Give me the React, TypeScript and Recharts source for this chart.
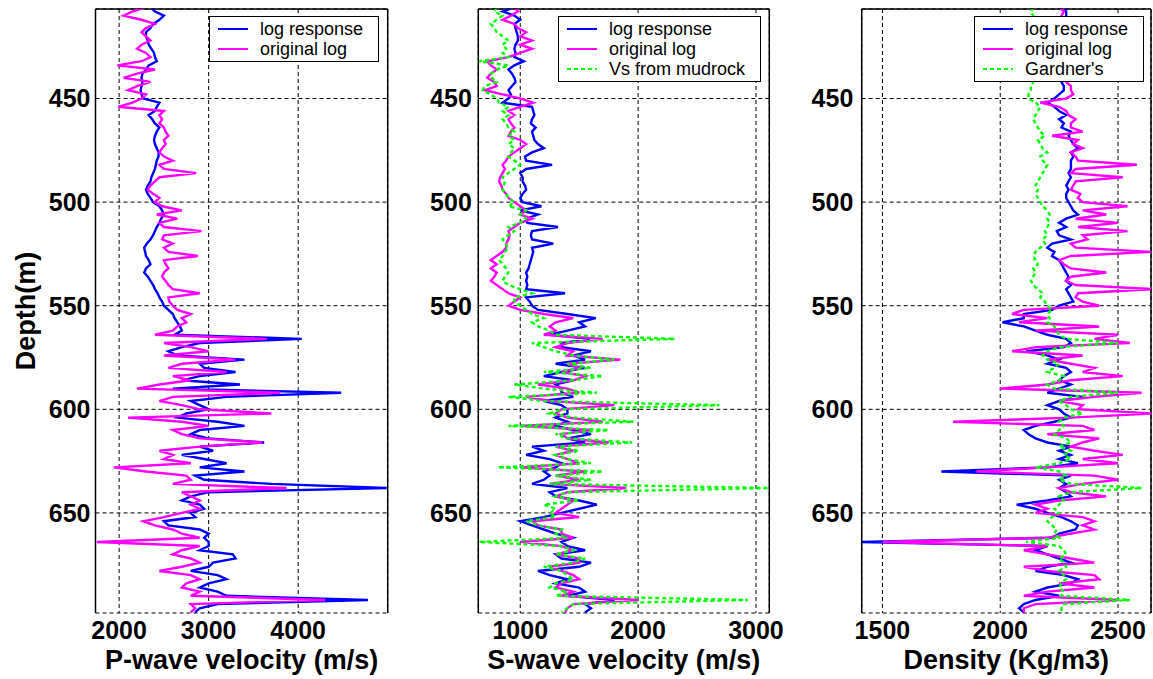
import React from "react";
import { LineChart, Line, XAxis, YAxis, CartesianGrid, ReferenceLine } from "recharts";

const FONT = '"Liberation Sans", Arial, Helvetica, sans-serif';
const BLUE = "#0000ff";
const MAGENTA = "#ff00ff";
const GREEN = "#00ff00";

// depth samples (m)
const depth = [
  406, 408, 410, 412, 414, 416, 418, 420, 422, 424,
  426, 428, 430, 432, 434, 436, 438, 440, 442, 444,
  446, 448, 450, 452, 454, 456, 458, 460, 462, 464,
  466, 468, 470, 472, 474, 476, 478, 480, 482, 484,
  486, 488, 490, 492, 494, 496, 498, 500, 502, 504,
  506, 508, 510, 512, 514, 516, 518, 520, 522, 524,
  526, 528, 530, 532, 534, 536, 538, 540, 542, 544,
  546, 548, 550, 552, 554, 556, 558, 560, 562, 564,
  566, 568, 570, 572, 574, 576, 578, 580, 582, 584,
  586, 588, 590, 592, 594, 596, 598, 600, 602, 604,
  606, 608, 610, 612, 614, 616, 618, 620, 622, 624,
  626, 628, 630, 632, 634, 636, 638, 640, 642, 644,
  646, 648, 650, 652, 654, 656, 658, 660, 662, 664,
  666, 668, 670, 672, 674, 676, 678, 680, 682, 684,
  686, 688, 690, 692, 694, 696, 698,
];

// P-wave velocity (m/s)
const vpLog = [
  2350, 2400, 2500, 2450, 2380, 2350, 2300, 2300, 2320, 2330,
  2360, 2390, 2400, 2420, 2330, 2300, 2260, 2250, 2260, 2250,
  2240, 2250, 2270, 2450, 2420, 2400, 2330, 2370, 2400, 2450,
  2420, 2400, 2390, 2400, 2420, 2440, 2440, 2420, 2410, 2400,
  2380, 2360, 2350, 2320, 2300, 2320, 2350, 2380, 2450, 2480,
  2500, 2470, 2450, 2420, 2400, 2380, 2350, 2310, 2280, 2290,
  2300, 2330, 2350, 2300, 2280, 2320, 2350, 2380, 2400, 2430,
  2450, 2480, 2500, 2550, 2600, 2620, 2650, 2680, 2700, 2620,
  4040, 2900, 2700, 2550, 2650, 3400, 2900, 2950, 3300, 2900,
  2700, 3350, 2600, 4480, 3200, 2800, 2900, 3000, 2750, 2650,
  3100, 3400, 2900, 2800, 3000, 3620, 2900, 3050, 2700, 2950,
  3200, 2900, 3400, 2850, 2950, 3700, 4990, 3000, 2800, 2700,
  2900, 2950, 2800, 2850, 2500, 2550, 2900, 3000, 2950, 3000,
  3000, 2900, 3270, 3300, 3050, 3000, 2800, 3100, 3200, 3000,
  2900, 3100, 3200, 4780, 3100, 2900, 2850,
];
const vpOrig = [
  2300, 2150, 2050, 2250, 2400, 2300, 2250, 2300, 2350, 2250,
  2200, 2300, 2350, 2250, 1980, 2400, 2200, 2050, 2350, 2200,
  2100, 2300, 2250, 2150, 1990, 2500, 2450, 2480, 2450, 2500,
  2520, 2550, 2500, 2520, 2480, 2450, 2500, 2600, 2450, 2500,
  2860, 2450, 2400, 2350, 2320, 2380, 2450, 2400, 2480, 2700,
  2420, 2650, 2450, 2500, 2920, 2500, 2480, 2600, 2500, 2550,
  2880, 2500, 2520, 2550, 2500, 2480, 2520, 2550, 2600, 2900,
  2550, 2560, 2600, 2650, 2800, 2700, 2750, 2650, 2600, 2400,
  3650, 2500, 2800, 3000, 2500, 3300, 2700, 2550, 3200, 2600,
  2800, 2450, 2200, 3800, 2600, 2450, 2700, 2900, 3700, 2100,
  2700, 3000, 2600, 2700, 2900, 3600, 2900, 2450, 2600, 2500,
  2800, 1940, 2300, 2750, 2800, 2600, 3870, 2700, 2800, 2900,
  2800, 2900, 2700, 2500, 2270, 2400, 2600, 2700, 2900, 1750,
  2900, 2700, 2600, 2800, 2900, 2700, 2450, 2800, 2900, 2750,
  2700, 2900, 2800, 4300, 2800, 2850, 2800,
];

// S-wave velocity (m/s)
const vsLog = [
  950, 850, 950, 1000, 950, 960, 970, 980, 980, 960,
  950, 960, 950, 1030, 950, 900, 930, 950, 960, 930,
  900, 920, 900, 850, 1100, 1110, 1120, 1100, 1090, 1130,
  1100, 1110, 1120, 1150, 1200, 1100, 1040, 1050, 1270, 1050,
  1000, 1020, 1020, 1040, 1050, 1020, 1000, 1020, 1180, 1000,
  1150, 1050, 1060, 1320, 1100, 1090, 1100, 1280, 1100, 1110,
  1100, 1090, 1080, 1070, 1050, 1060, 1050, 1060, 1050, 1380,
  1050, 1080, 1100, 1150, 1400, 1640, 1500, 1550, 1400, 1250,
  1590, 1350, 1350, 1600, 1450, 1550, 1300, 1550, 1350, 1200,
  1450, 1300, 1350, 1350, 1450, 1200, 1350, 1400, 1400, 1300,
  1400, 1300, 1450, 1600, 1400, 1550, 1100, 1200, 1050, 1250,
  1350, 1300, 1200, 1250, 1200, 1100, 1400, 1250, 1300, 1500,
  1650, 1500, 1350, 1200, 1000, 1100, 1200, 1300, 1450, 1350,
  1400, 1550, 1300, 1350, 1600, 1500, 1150, 1250, 1400, 1300,
  1500, 1550, 1400, 1800, 1550, 1600, 1550,
];
const vsOrig = [
  950, 980, 920, 850, 950, 980, 1050, 1000, 1100, 1000,
  1100, 1000, 900, 720, 750, 800, 750, 720, 780, 800,
  700, 850, 1000, 1110, 1000, 900, 950, 900, 920, 950,
  920, 900, 1000, 1050, 1000, 950, 900, 880, 850, 870,
  850, 830, 820, 840, 850, 880, 900, 950, 1000, 1050,
  1000, 1100, 1000, 950, 900, 910, 900, 880, 880, 850,
  800, 750, 800, 750, 800, 780, 750, 800, 850, 900,
  1000, 950, 900, 1000, 1200, 1450, 1300, 1250, 1300, 1200,
  1700, 1400, 1300, 1450, 1400, 1850, 1400, 1500, 1350, 1550,
  1450, 1150, 1400, 1500, 1050, 1250, 1800, 1350, 1300, 1400,
  1700, 1000, 1600, 1350, 1400, 1750, 1300, 1450, 1300, 1400,
  1500, 1000, 1550, 1300, 1500, 1250, 1900, 1400, 1300, 1450,
  1400, 1350, 1300, 1500, 1100, 1150, 1350, 1350, 1450, 1000,
  1350, 1450, 1300, 1500, 1500, 1250, 1350, 1450, 1500, 1350,
  1300, 1450, 1350, 2000, 1450, 1400, 1380,
];
const vsMud = [
  800, 780, 850, 800, 750, 780, 800, 850, 900, 850,
  880, 850, 900, 650, 900, 800, 750, 760, 800, 700,
  680, 750, 800, 820, 900, 850, 900, 850, 880, 900,
  950, 900, 950, 900, 950, 920, 900, 950, 1000, 950,
  900, 850, 870, 860, 850, 880, 900, 950, 900, 1050,
  1000, 1050, 1000, 900, 950, 900, 850, 870, 900, 870,
  850, 820, 850, 880, 900, 870, 850, 900, 1000, 1100,
  950, 950, 1000, 1050, 1100, 1200, 1100, 1150, 1250, 1300,
  2310, 1100, 1200, 1300, 1450, 1800, 1400, 1600, 1200, 1700,
  1450, 950, 1200, 1650, 900, 1200, 2690, 1350, 1250, 1450,
  1960, 900, 1750, 1300, 1400, 1950, 1300, 1500, 1300, 1400,
  1600, 810, 1700, 1300, 1600, 1250, 3110, 1400, 1300, 1500,
  1200, 1300, 1250, 1300, 1050, 1150, 1350, 1300, 1400, 650,
  1350, 1450, 1300, 1550, 1450, 1200, 1350, 1400, 1450, 1300,
  1250, 1400, 1300, 2930, 1450, 1400, 1350,
];

// Density (kg/m3)
const rhoLog = [
  2270, 2280, 2280, 2270, 2280, 2290, 2270, 2280, 2270, 2260,
  2270, 2280, 2270, 2260, 2270, 2280, 2270, 2260, 2260, 2270,
  2270, 2250, 2230, 2200, 2230, 2250, 2280, 2250, 2270, 2260,
  2300, 2290, 2300, 2310, 2330, 2300, 2310, 2300, 2300, 2300,
  2290, 2300, 2290, 2280, 2290, 2280, 2280, 2290, 2300, 2310,
  2330, 2280, 2250, 2280, 2240, 2250, 2300, 2220, 2200, 2230,
  2220, 2250, 2260, 2270, 2280, 2290, 2280, 2300, 2280, 2290,
  2300, 2310, 2250, 2220, 2100, 2100, 2010, 2100, 2150, 2200,
  2280, 2300, 2270, 2110, 2200, 2250, 2200, 2280, 2300, 2270,
  2250, 2300, 2250, 2200, 2350, 2250, 2200, 2250, 2270, 2300,
  2230, 2150, 2100, 2120, 2150, 2200, 2300, 2250, 2300, 2250,
  2330, 2200, 1750, 2300, 2250, 2280, 2250, 2280, 2300, 2200,
  2070, 2150, 2200, 2260, 2300, 2330, 2320, 2250, 2220, 1410,
  2200, 2150, 2200, 2250, 2300, 2200, 2150, 2270, 2330, 2300,
  2200, 2150, 2250, 2150, 2100, 2080, 2100,
];
const rhoOrig = [
  2250, 2270, 2260, 2280, 2250, 2300, 2270, 2260, 2290, 2270,
  2280, 2260, 2300, 2270, 2280, 2260, 2290, 2300, 2280, 2300,
  2300, 2310, 2280, 2170, 2250, 2280, 2290, 2320, 2300, 2300,
  2350, 2220, 2330, 2310, 2350, 2300, 2320, 2330, 2580, 2320,
  2300, 2520, 2320, 2310, 2300, 2340, 2330, 2350, 2540, 2350,
  2450, 2320, 2500, 2330, 2540, 2350, 2370, 2300, 2320, 2640,
  2300, 2250, 2270, 2300, 2450, 2300, 2280, 2320, 2650, 2330,
  2320, 2350, 2420, 2100, 2050, 2200, 2080, 2420, 2150, 2500,
  2400, 2550, 2150, 2050, 2350, 2200, 2300, 2400, 2350, 2520,
  2300, 2200, 2000, 2600, 2400, 2250, 2350, 2330, 2650, 2300,
  1800, 2350, 2400, 2200, 2420, 2350, 2300, 2400, 2520, 2350,
  2500, 2200, 1900, 2400, 2500, 2350, 2250, 2300, 2450, 2250,
  2150, 2200, 2150, 2350, 2400, 2350, 2400, 2300, 2200, 1500,
  2200, 2100, 2200, 2300, 2400, 2100, 2200, 2400, 2420, 2250,
  2400, 2200, 2100, 2500, 2150, 2100, 2100,
];
const rhoGard = [
  2140, 2130, 2140, 2150, 2140, 2130, 2140, 2150, 2140, 2130,
  2140, 2130, 2140, 2150, 2140, 2130, 2140, 2130, 2140, 2130,
  2130, 2120, 2120, 2150, 2170, 2160, 2150, 2140, 2150, 2160,
  2170, 2190, 2160, 2170, 2180, 2200, 2170, 2180, 2200, 2190,
  2180, 2170, 2160, 2150, 2160, 2150, 2160, 2170, 2180, 2200,
  2210, 2200, 2210, 2200, 2190, 2200, 2180, 2190, 2170, 2150,
  2140, 2150, 2160, 2140, 2150, 2140, 2130, 2140, 2160, 2180,
  2170, 2190, 2200, 2220, 2200, 2210, 2200, 2230, 2240, 2250,
  2280, 2500, 2250, 2200, 2180, 2200, 2250, 2230, 2200, 2270,
  2250, 2200, 2230, 2500, 2300, 2250, 2280, 2300, 2350, 2270,
  2250, 2270, 2250, 2230, 2280, 2300, 2250, 2300, 2270, 2300,
  2250, 2150, 2250, 2280, 2250, 2300, 2600, 2300, 2250, 2270,
  2250, 2230, 2250, 2220, 2200, 2220, 2240, 2230, 2250, 2110,
  2250, 2270, 2280, 2250, 2270, 2280, 2250, 2270, 2280, 2260,
  2250, 2270, 2260, 2550, 2270, 2260, 2260,
];

const depthTicks = [450, 500, 550, 600, 650];
const depthDomain: [number, number] = [406.8, 698.3];
const vpTicks = [2000, 3000, 4000];
const vsTicks = [1000, 2000, 3000];
const rhoTicks = [1500, 2000, 2500];

type Series = { key: string; name: string; color: string; dashed?: boolean; values: number[] };

type LegendProps = { left: number; width: number; items: Series[] };

function LegendBox({ left, width, items }: LegendProps) {
  const height = items.length * 20 + 6;
  return (
    <svg
      style={{ position: "absolute", left, top: 16 }}
      width={width}
      height={height}
    >
      <rect x={0.5} y={0.5} width={width - 1} height={height - 1} fill="#fff" stroke="#000" />
      {items.map((s, i) => (
        <g key={s.key}>
          <line
            x1={9}
            x2={39}
            y1={13 + i * 20}
            y2={13 + i * 20}
            stroke={s.color}
            strokeWidth={2}
            strokeDasharray={s.dashed ? "4 3" : undefined}
          />
          <text x={51} y={13 + i * 20} dy="0.35em" fontSize={18} fontFamily={FONT} fill="#000">
            {s.name}
          </text>
        </g>
      ))}
    </svg>
  );
}

type PanelProps = {
  left: number;
  width: number;
  marginRight: number;
  axisWidth: number;
  tickGap: number;
  xDomain: [number, number];
  xTicks: number[];
  title: string;
  series: Series[];
  depthLabel?: boolean;
  legendLeft: number;
  legendWidth: number;
};

function Panel(p: PanelProps) {
  const data = depth.map((d, i) => {
    const row: Record<string, number> = { depth: d };
    p.series.forEach((s) => {
      row[s.key] = s.values[i];
    });
    return row;
  });
  const tickStyle = { fill: "#000", fontSize: 25, fontWeight: 700, fontFamily: FONT };

  const depthLabel = (props: any) => {
    const vb = props && props.viewBox ? props.viewBox : { x: 0, y: 9, width: p.axisWidth, height: 604 };
    const cx = vb.x + 35;
    const cy = vb.y + vb.height / 2;
    return (
      <text
        x={cx}
        y={cy}
        transform={`rotate(-90 ${cx} ${cy})`}
        textAnchor="middle"
        fontSize={27}
        fontWeight={700}
        fontFamily={FONT}
        fill="#000"
      >
        Depth(m)
      </text>
    );
  };

  return (
    <div style={{ position: "absolute", left: p.left, top: 0 }}>
      <LineChart
        layout="vertical"
        width={p.width}
        height={679}
        data={data}
        margin={{ top: 9, right: p.marginRight, bottom: 0, left: 0 }}
      >
        <CartesianGrid stroke="#000" strokeDasharray="4 3" strokeWidth={1} />
        <XAxis
          type="number"
          domain={p.xDomain}
          ticks={p.xTicks}
          allowDataOverflow
          height={66}
          axisLine={false}
          tickLine={false}
          tickSize={0}
          tickMargin={8}
          tick={tickStyle}
          label={{
            value: p.title,
            position: "insideBottom",
            offset: 10,
            fill: "#000",
            fontSize: 27,
            fontWeight: 700,
            fontFamily: FONT,
          }}
        />
        <YAxis
          type="number"
          dataKey="depth"
          domain={depthDomain}
          ticks={depthTicks}
          allowDataOverflow
          width={p.axisWidth}
          axisLine={{ stroke: "#000", strokeWidth: 1.5 }}
          tickLine={false}
          tickSize={0}
          tickMargin={p.tickGap}
          tick={tickStyle}
          label={p.depthLabel ? depthLabel : undefined}
        />
        <ReferenceLine y={depthDomain[0]} stroke="#000" strokeWidth={1.5} ifOverflow="visible" />
        <ReferenceLine x={p.xDomain[1]} stroke="#000" strokeWidth={1.5} ifOverflow="visible" />
        {p.series.map((s) => (
          <Line
            key={s.key}
            type="linear"
            dataKey={s.key}
            name={s.name}
            stroke={s.color}
            strokeWidth={2.4}
            strokeDasharray={s.dashed ? "4 3" : undefined}
            dot={false}
            isAnimationActive={false}
          />
        ))}
      </LineChart>
      <LegendBox left={p.legendLeft - p.left} width={p.legendWidth} items={p.series} />
    </div>
  );
}

export default function App() {
  return (
    <div
      style={{
        position: "absolute",
        left: 0,
        top: 0,
        width: 1153,
        height: 679,
        background: "#fff",
        overflow: "hidden",
      }}
    >
      <Panel
        left={0}
        width={390}
        marginRight={2.3}
        axisWidth={95.5}
        tickGap={5}
        xDomain={[1736, 5000]}
        xTicks={vpTicks}
        title="P-wave velocity (m/s)"
        depthLabel
        legendLeft={209}
        legendWidth={170}
        series={[
          { key: "vpLog", name: "log response", color: BLUE, values: vpLog },
          { key: "vpOrig", name: "original log", color: MAGENTA, values: vpOrig },
        ]}
      />
      <Panel
        left={400}
        width={386}
        marginRight={16.7}
        axisWidth={78.3}
        tickGap={6.5}
        xDomain={[644, 3113]}
        xTicks={vsTicks}
        title="S-wave velocity (m/s)"
        legendLeft={558}
        legendWidth={203}
        series={[
          { key: "vsLog", name: "log response", color: BLUE, values: vsLog },
          { key: "vsOrig", name: "original log", color: MAGENTA, values: vsOrig },
          { key: "vsMud", name: "Vs from mudrock", color: GREEN, dashed: true, values: vsMud },
        ]}
      />
      <Panel
        left={780}
        width={373}
        marginRight={2}
        axisWidth={81.7}
        tickGap={8.4}
        xDomain={[1412, 2640]}
        xTicks={rhoTicks}
        title="Density (Kg/m3)"
        legendLeft={974}
        legendWidth={170}
        series={[
          { key: "rhoLog", name: "log response", color: BLUE, values: rhoLog },
          { key: "rhoOrig", name: "original log", color: MAGENTA, values: rhoOrig },
          { key: "rhoGard", name: "Gardner's", color: GREEN, dashed: true, values: rhoGard },
        ]}
      />
    </div>
  );
}
